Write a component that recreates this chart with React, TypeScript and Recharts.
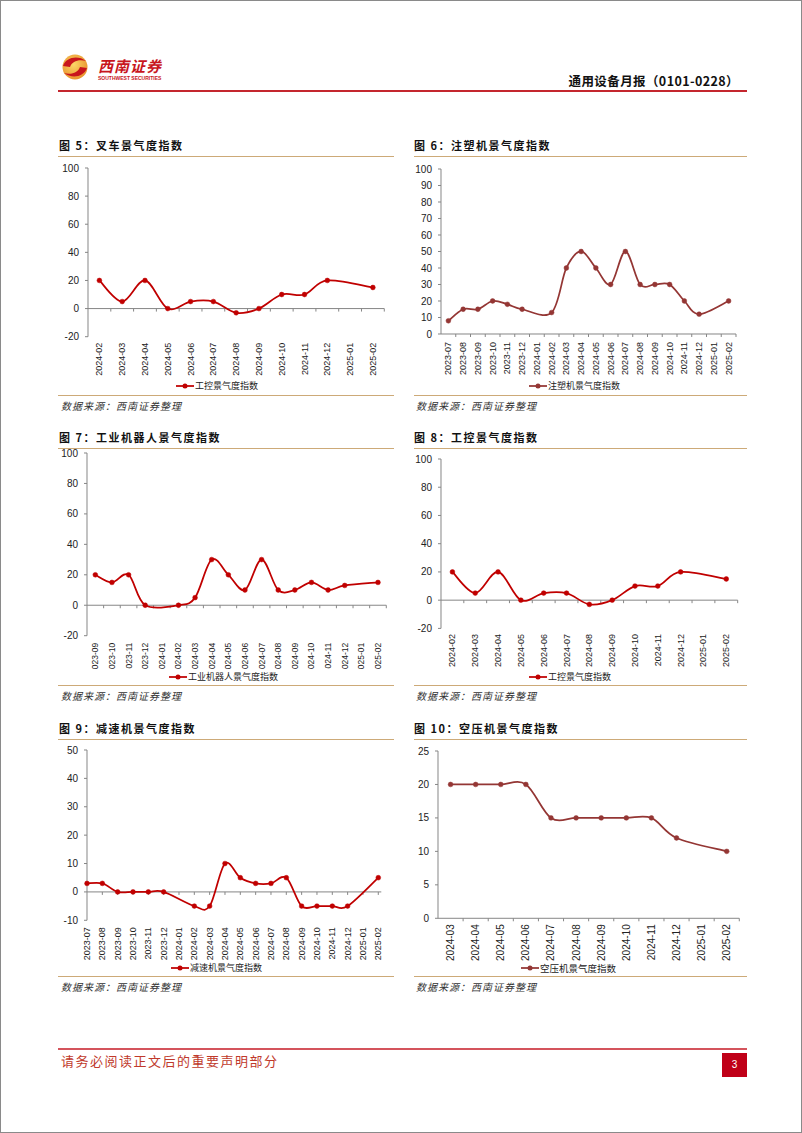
import React from "react";
import { LineChart, Line, XAxis, YAxis, ReferenceLine, Legend } from "recharts";

// 工控景气度指数 (图5、图8 同一组数)
const ctrlMonths = ["2024-02", "2024-03", "2024-04", "2024-05", "2024-06", "2024-07", "2024-08", "2024-09", "2024-10", "2024-11", "2024-12", "2025-01", "2025-02"];
const ctrlValues = [20, 5, 20, 0, 5, 5, -3, 0, 10, 10, 20, null, 15];

// 注塑机
const moldMonths = ["2023-07", "2023-08", "2023-09", "2023-10", "2023-11", "2023-12", "2024-01", "2024-02", "2024-03", "2024-04", "2024-05", "2024-06", "2024-07", "2024-08", "2024-09", "2024-10", "2024-11", "2024-12", "2025-01", "2025-02"];
const moldValues = [8, 15, 15, 20, 18, 15, null, 13, 40, 50, 40, 30, 50, 30, 30, 30, 20, 12, null, 20];

// 工业机器人
const robotMonths = ["2023-09", "2023-10", "2023-11", "2023-12", "2024-01", "2024-02", "2024-03", "2024-04", "2024-05", "2024-06", "2024-07", "2024-08", "2024-09", "2024-10", "2024-11", "2024-12", "2025-01", "2025-02"];
const robotValues = [20, 15, 20, 0, null, 0, 5, 30, 20, 10, 30, 10, 10, 15, 10, 13, null, 15];

// 减速机
const reducerMonths = ["2023-07", "2023-08", "2023-09", "2023-10", "2023-11", "2023-12", "2024-01", "2024-02", "2024-03", "2024-04", "2024-05", "2024-06", "2024-07", "2024-08", "2024-09", "2024-10", "2024-11", "2024-12", "2025-01", "2025-02"];
const reducerValues = [3, 3, 0, 0, 0, 0, null, -5, -5, 10, 5, 3, 3, 5, -5, -5, -5, -5, null, 5];

// 空压机
const compMonths = ["2024-03", "2024-04", "2024-05", "2024-06", "2024-07", "2024-08", "2024-09", "2024-10", "2024-11", "2024-12", "2025-01", "2025-02"];
const compValues = [20, 20, 20, 20, 15, 15, 15, 15, 15, 12, null, 10];

const ticksWide = [-20, 0, 20, 40, 60, 80, 100];
const ticksMold = [0, 10, 20, 30, 40, 50, 60, 70, 80, 90, 100];
const ticksReducer = [-10, 0, 10, 20, 30, 40, 50];
const ticksComp = [0, 5, 10, 15, 20, 25];

const RED = "#C00000";
const DARK = "#943634";
const TAN = "#CDAA78";
const AXIS = "#868686";
const CJK = '"Noto Sans CJK SC", sans-serif';
const LAT = '"Liberation Sans", Arial, sans-serif';

// excel 平滑线
const excelCurve = (ctx: any) => {
  let pts: number[][] = [];
  return {
    areaStart() {},
    areaEnd() {},
    lineStart() {
      pts = [];
    },
    point(x: number, y: number) {
      pts.push([+x, +y]);
    },
    lineEnd() {
      if (!pts.length) return;
      ctx.moveTo(pts[0][0], pts[0][1]);
      for (let i = 0; i < pts.length - 1; i++) {
        const p0 = pts[i - 1] || pts[i];
        const p1 = pts[i];
        const p2 = pts[i + 1];
        const p3 = pts[i + 2] || p2;
        ctx.bezierCurveTo(
          p1[0] + (p2[0] - p0[0]) / 6,
          p1[1] + (p2[1] - p0[1]) / 6,
          p2[0] - (p3[0] - p1[0]) / 6,
          p2[1] - (p3[1] - p1[1]) / 6,
          p2[0],
          p2[1]
        );
      }
    },
  };
};

function ZeroAxis(p: any) {
  const x1 = Math.min(p.x1, p.x2);
  const x2 = Math.max(p.x1, p.x2);
  const y = p.y1;
  const marks: number[] = [];
  if (p.band) {
    const s = (x2 - x1) / p.n;
    for (let i = 1; i <= p.n; i++) marks.push(x1 + i * s);
  } else {
    const s = (x2 - x1 - p.padR) / (p.n - 1);
    for (let i = 1; i < p.n; i++) marks.push(x1 + i * s);
  }
  return (
    <g>
      <line x1={x1} y1={y} x2={x2} y2={y} stroke={AXIS} strokeWidth={1} />
      {marks.map((m, i) => (
        <line key={i} x1={m} x2={m} y1={y} y2={y + 3} stroke={AXIS} strokeWidth={1} />
      ))}
    </g>
  );
}

function XTick(p: any) {
  const { x, y, payload, fs, gap, fmt } = p;
  const ty = y + gap;
  const label = fmt ? fmt(payload.value) : payload.value;
  return (
    <text
      x={x}
      y={ty}
      transform={`rotate(-90 ${x} ${ty})`}
      textAnchor="end"
      dominantBaseline="central"
      fontSize={fs}
      fontFamily={LAT}
      fill="#222"
    >
      {label}
    </text>
  );
}

function LegendItem({ name, color, fs }: any) {
  return (
    <div style={{ height: 14, display: "flex", alignItems: "center", whiteSpace: "nowrap" }}>
      <svg width={18} height={14}>
        <line x1={0} y1={7} x2={18} y2={7} stroke={color} strokeWidth={1.75} />
        <circle cx={9} cy={7} r={2.5} fill={color} />
      </svg>
      <span style={{ fontFamily: CJK, fontSize: fs, color: "#222", marginLeft: 1, lineHeight: "14px" }}>{name}</span>
    </div>
  );
}

function MiniChart({ c }: any) {
  const yw = 30;
  const mt = 8;
  const mr = 10;
  const lh = 14;
  const L = c.pl - yw;
  const T = c.pt - mt;
  const W = c.pr - L + mr;
  const xh = c.legendTop - c.pb;
  const H = c.legendTop + lh - T;
  const w = c.pr - c.pl;
  const n = c.months.length;
  const pad = c.band ? { left: w / (2 * n), right: w / (2 * n) } : { left: 0, right: c.padR };
  const data = c.months.map((m: string, i: number) => ({ m, v: c.values[i] }));
  return (
    <div style={{ position: "absolute", left: L, top: T }}>
      <LineChart width={W} height={H} data={data} margin={{ top: mt, right: mr, bottom: 0, left: 0 }}>
        <XAxis
          dataKey="m"
          type="category"
          interval={0}
          padding={pad}
          axisLine={false}
          tickLine={false}
          tickSize={0}
          tickMargin={0}
          height={xh}
          tick={(p: any) => <XTick {...p} fs={c.fs} gap={c.gap} fmt={c.fmt} />}
        />
        <YAxis
          type="number"
          domain={[c.ticks[0], c.ticks[c.ticks.length - 1]]}
          ticks={c.ticks}
          interval={0}
          width={yw}
          tickSize={3}
          tickMargin={6}
          stroke={AXIS}
          tick={{ fill: "#222", fontSize: 10, fontFamily: LAT }}
          allowDataOverflow
        />
        <ReferenceLine
          y={0}
          stroke={AXIS}
          shape={(p: any) => <ZeroAxis {...p} n={n} band={c.band} padR={c.padR || 0} />}
        />
        <Line
          dataKey="v"
          name={c.name}
          stroke={c.color}
          strokeWidth={1.75}
          type={excelCurve as any}
          connectNulls
          dot={{ r: 2.4, fill: c.color, stroke: c.color, strokeWidth: 0.5 }}
          activeDot={false}
          isAnimationActive={false}
        />
        <Legend
          verticalAlign="bottom"
          height={lh}
          wrapperStyle={{ left: c.legendLeft - L, top: c.legendTop - T, width: "auto", height: lh }}
          content={() => <LegendItem name={c.name} color={c.color} fs={c.lfs} />}
        />
      </LineChart>
    </div>
  );
}

const charts = [
  { months: ctrlMonths, values: ctrlValues, name: "工控景气度指数", color: RED, ticks: ticksWide, pl: 86.7, pr: 383, pt: 167.3, pb: 336, legendTop: 378, legendLeft: 175, gap: 6, fs: 9, lfs: 9, band: true },
  { months: moldMonths, values: moldValues, name: "注塑机景气度指数", color: DARK, ticks: ticksMold, pl: 440, pr: 735, pt: 168.3, pb: 333.3, legendTop: 378, legendLeft: 528, gap: 8, fs: 9, lfs: 9, band: true },
  { months: robotMonths, values: robotValues, name: "工业机器人景气度指数", color: RED, ticks: ticksWide, pl: 85.7, pr: 385, pt: 452.3, pb: 635, legendTop: 669, legendLeft: 168, gap: 7, fs: 8.5, lfs: 9, band: true, fmt: (s: string) => s.slice(1) },
  { months: ctrlMonths, values: ctrlValues, name: "工控景气度指数", color: RED, ticks: ticksWide, pl: 440, pr: 736.7, pt: 458.3, pb: 627.7, legendTop: 668.7, legendLeft: 528, gap: 5.5, fs: 9, lfs: 9, band: true },
  { months: reducerMonths, values: reducerValues, name: "减速机景气度指数", color: RED, ticks: ticksReducer, pl: 85.7, pr: 380, pt: 749, pb: 919.3, legendTop: 959.7, legendLeft: 170, gap: 7, fs: 9, lfs: 9, band: false, padR: 3 },
  { months: compMonths, values: compValues, name: "空压机景气度指数", color: DARK, ticks: ticksComp, pl: 436.7, pr: 738, pt: 750, pb: 917.3, legendTop: 959.7, legendLeft: 520, gap: 6, fs: 10, lfs: 9.5, band: true },
];

const titles = [
  { text: "图 5：叉车景气度指数", x: 58, y: 144 },
  { text: "图 6：注塑机景气度指数", x: 413, y: 144 },
  { text: "图 7：工业机器人景气度指数", x: 58, y: 436 },
  { text: "图 8：工控景气度指数", x: 413, y: 436 },
  { text: "图 9：减速机景气度指数", x: 58, y: 727 },
  { text: "图 10：空压机景气度指数", x: 413, y: 727 },
];
const underlineYs = [155, 447, 738];
const sourceLineYs = [393.5, 684, 975];

export default function App() {
  const abs = (s: React.CSSProperties): React.CSSProperties => ({ position: "absolute", ...s });
  return (
    <div style={abs({ left: 0, top: 0, width: 802, height: 1133, background: "#fff", border: "1px solid #8a8a8a", boxSizing: "border-box", overflow: "hidden" })}>
      {/* logo */}
      <svg style={abs({ left: 60, top: 52 })} width={30} height={30}>
        <defs>
          <radialGradient id="lg" cx="45%" cy="40%" r="60%">
            <stop offset="0%" stopColor="#FBD768" />
            <stop offset="100%" stopColor="#E9952E" />
          </radialGradient>
        </defs>
        <circle cx={14} cy={14} r={12.5} fill="url(#lg)" />
        <path d="M2,13 C5,4 17,2 25,8 C18,6 11,8 9,14 Z" fill="#C8161D" />
        <path d="M26,15 C23,24 11,26 3,20 C10,22 17,20 19,14 Z" fill="#C8161D" />
      </svg>
      <div style={abs({ left: 97, top: 56, fontFamily: CJK, fontWeight: 700, fontSize: 15, color: "#C8161D", letterSpacing: 1, lineHeight: "17px", fontStyle: "italic" })}>西南证券</div>
      <div style={abs({ left: 97, top: 74, fontFamily: LAT, fontSize: 5, color: "#C8161D", lineHeight: "6px", fontWeight: 700 })}>SOUTHWEST SECURITIES</div>
      <div style={abs({ right: 62, top: 72, fontFamily: CJK, fontWeight: 700, fontSize: 12.5, color: "#111", letterSpacing: 0.4, lineHeight: "16px" })}>通用设备月报（0101-0228）</div>
      <div style={abs({ left: 57, top: 89, width: 689, height: 2, background: "#C4262E" })} />

      {titles.map((t, i) => (
        <div key={i} style={abs({ left: t.x, top: t.y - 7, fontFamily: CJK, fontWeight: 700, fontSize: 11, letterSpacing: 1.5, lineHeight: "14px", color: "#111", whiteSpace: "nowrap" })}>
          {t.text}
        </div>
      ))}
      {underlineYs.map((y, i) => (
        <React.Fragment key={i}>
          <div style={abs({ left: 57, top: y, width: 336, height: 1, background: TAN })} />
          <div style={abs({ left: 413, top: y, width: 333, height: 1, background: TAN })} />
        </React.Fragment>
      ))}
      {sourceLineYs.map((y, i) => (
        <React.Fragment key={i}>
          <div style={abs({ left: 57, top: y, width: 336, height: 1, background: TAN })} />
          <div style={abs({ left: 413, top: y, width: 333, height: 1, background: TAN })} />
          <div style={abs({ left: 60, top: y + 4, fontFamily: CJK, fontSize: 10, fontStyle: "italic", letterSpacing: 1, lineHeight: "14px", color: "#333" })}>数据来源：西南证券整理</div>
          <div style={abs({ left: 415, top: y + 4, fontFamily: CJK, fontSize: 10, fontStyle: "italic", letterSpacing: 1, lineHeight: "14px", color: "#333" })}>数据来源：西南证券整理</div>
        </React.Fragment>
      ))}

      {charts.map((c, i) => (
        <MiniChart key={i} c={c} />
      ))}

      {/* footer */}
      <div style={abs({ left: 57, top: 1047, width: 689, height: 2, background: "#D4545C" })} />
      <div style={abs({ left: 60, top: 1051, fontFamily: CJK, fontSize: 13, letterSpacing: 1.5, color: "#C0392B", lineHeight: "18px" })}>请务必阅读正文后的重要声明部分</div>
      <div style={abs({ left: 721, top: 1052, width: 25, height: 24, background: "#C00018", color: "#fff", fontFamily: LAT, fontSize: 10, lineHeight: "24px", textAlign: "center" })}>3</div>
    </div>
  );
}
